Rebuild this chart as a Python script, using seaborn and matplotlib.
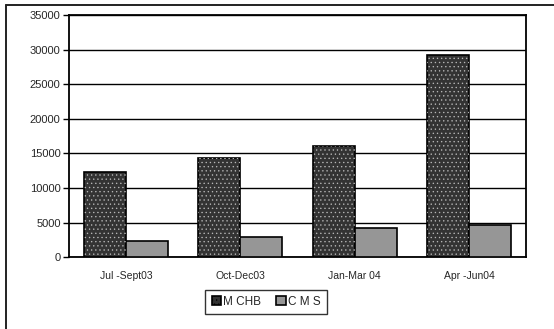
import matplotlib
matplotlib.use("Agg")
import matplotlib.pyplot as plt
from matplotlib.patches import Rectangle
from matplotlib.lines import Line2D
import seaborn as sns
import pandas as pd

periods = ["Jul -Sept03", "Oct-Dec03", "Jan-Mar 04", "Apr -Jun04"]
mchb = [12300, 14300, 16100, 29200]
cms = [2350, 2900, 4250, 4700]
series_names = ["M CHB", "C M S"]
y_ticks = [0, 5000, 10000, 15000, 20000, 25000, 30000, 35000]

df = pd.DataFrame({
    "period": periods * 2,
    "value": mchb + cms,
    "series": [series_names[0]] * len(periods) + [series_names[1]] * len(periods),
})

sns.set_style("white")
plt.rcParams["font.family"] = ["Liberation Sans", "DejaVu Sans"]
plt.rcParams["hatch.linewidth"] = 0.45

fig = plt.figure(figsize=(5.54, 3.29), dpi=100)
ax = fig.add_axes([0.1245, 0.218, 0.825, 0.7365])

palette = {series_names[0]: "#333333", series_names[1]: "#969696"}
sns.barplot(data=df, x="period", y="value", hue="series", order=periods,
            hue_order=series_names, palette=palette, width=0.735, gap=0,
            edgecolor="black", linewidth=1.2, saturation=1, ax=ax, legend=True,
            zorder=3)

# light stipple over the dark series
n = len(periods)
for bar in ax.patches[:n]:
    ax.add_patch(Rectangle(bar.get_xy(), bar.get_width(), bar.get_height(),
                           fill=False, hatch="....", edgecolor="#b8b8b8",
                           linewidth=0, zorder=3.5))

ax.set_xlim(-0.5, n - 0.5)
ax.set_ylim(0, 35000)
ax.set_yticks(y_ticks)
ax.set_yticklabels([str(v) for v in y_ticks], fontsize=8)
ax.yaxis.grid(True, color="black", linewidth=1.0, zorder=0)
ax.set_axisbelow(True)

ax.set_xticks(range(n))
ax.set_xticklabels(periods, fontsize=7.5)
ax.set_xticks([i - 0.5 for i in range(n + 1)], minor=True)
ax.tick_params(axis="x", which="major", length=0, pad=10)
ax.tick_params(axis="x", which="minor", length=4, width=1, direction="out", color="black")
ax.tick_params(axis="y", length=4, width=1, direction="out", color="black", pad=2, left=True)
ax.set_xlabel("")
ax.set_ylabel("")

for side in ["left", "right", "top", "bottom"]:
    ax.spines[side].set_visible(True)
    ax.spines[side].set_color("black")
    ax.spines[side].set_linewidth(1.3)

leg = ax.legend(loc="center", bbox_to_anchor=(266 / 554, 1 - 302 / 329),
                bbox_transform=fig.transFigure, ncol=2, frameon=True,
                fancybox=False, edgecolor="black", fontsize=8.5,
                handlelength=0.8, handleheight=0.8, handletextpad=0.15,
                columnspacing=1.3, borderpad=0.55, borderaxespad=0)
leg.get_frame().set_linewidth(1.0)
leg.legend_handles[0].set_hatch("....")

# outer frame: top and left edges
fig.add_artist(Line2D([5.5 / 554, 1], [1 - 4.5 / 329, 1 - 4.5 / 329],
                      transform=fig.transFigure, color="#222222", linewidth=1.4))
fig.add_artist(Line2D([5.5 / 554, 5.5 / 554], [0, 1 - 4.5 / 329],
                      transform=fig.transFigure, color="#222222", linewidth=1.4))

fig.savefig("out.png", dpi=100)
